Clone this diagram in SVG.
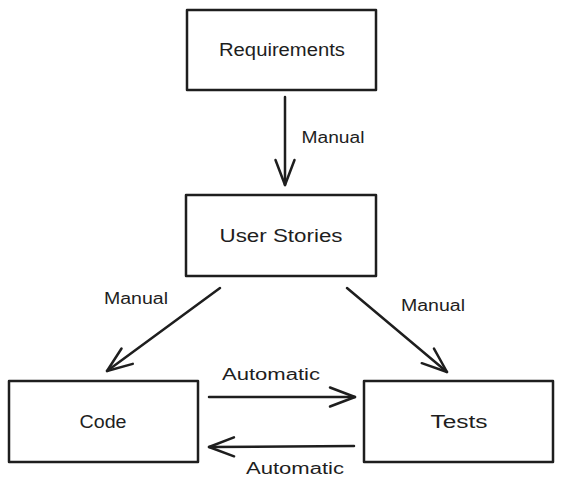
<svg xmlns="http://www.w3.org/2000/svg" width="563" height="491" viewBox="0 0 563 491">
<style>
.box{fill:#ffffff;stroke:#1e1e1e;stroke-width:2.5;stroke-linejoin:round}
.edge{fill:none;stroke:#1e1e1e;stroke-width:2.5;stroke-linecap:round}
.t{font-family:"Liberation Sans",Arial,sans-serif;font-size:18px;fill:#1e1e1e;text-anchor:middle}
.l{font-family:"Liberation Sans",Arial,sans-serif;font-size:16px;fill:#1e1e1e;text-anchor:middle}
</style>
<defs>
<marker id="ah" markerUnits="userSpaceOnUse" markerWidth="40" markerHeight="40" refX="0" refY="0" orient="auto" overflow="visible">
<path d="M -25 -9.5 L 0 0 L -25 9.5" fill="none" stroke="#1e1e1e" stroke-width="2.5" stroke-linecap="round" stroke-linejoin="round"/>
</marker>
</defs>
<rect width="563" height="491" fill="#ffffff"/>
<g id="requirements">
<rect class="box" x="187" y="10" width="189" height="80"/>
<text class="t" x="282" y="56" textLength="126" lengthAdjust="spacingAndGlyphs">Requirements</text>
</g>
<g id="user-stories">
<rect class="box" x="186" y="195" width="190" height="81"/>
<text class="t" x="281" y="242" textLength="123" lengthAdjust="spacingAndGlyphs">User Stories</text>
</g>
<g id="code">
<rect class="box" x="9" y="381" width="189" height="81"/>
<text class="t" x="103" y="428" textLength="47" lengthAdjust="spacingAndGlyphs">Code</text>
</g>
<g id="tests">
<rect class="box" x="364" y="381" width="189" height="81"/>
<text class="t" x="459" y="428" textLength="57" lengthAdjust="spacingAndGlyphs">Tests</text>
</g>
<g id="connectors">
<path class="edge" d="M 285 97 L 285 185" marker-end="url(#ah)"/>
<text class="l" x="333" y="143" textLength="63" lengthAdjust="spacingAndGlyphs">Manual</text>
<path class="edge" d="M 220 288 L 107 371" marker-end="url(#ah)"/>
<text class="l" x="136" y="304" textLength="64" lengthAdjust="spacingAndGlyphs">Manual</text>
<path class="edge" d="M 347 288 L 447 372" marker-end="url(#ah)"/>
<text class="l" x="433" y="311" textLength="64" lengthAdjust="spacingAndGlyphs">Manual</text>
<path class="edge" d="M 209 397 L 355 397" marker-end="url(#ah)"/>
<text class="l" x="271" y="380" textLength="98" lengthAdjust="spacingAndGlyphs">Automatic</text>
<path class="edge" d="M 354 446 L 209 447" marker-end="url(#ah)"/>
<text class="l" x="295" y="474" textLength="98" lengthAdjust="spacingAndGlyphs">Automatic</text>
</g>
</svg>
